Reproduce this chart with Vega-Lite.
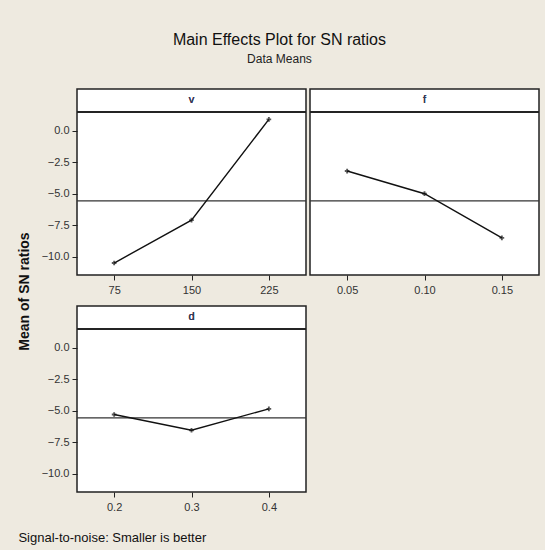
{
  "$schema": "https://vega.github.io/schema/vega-lite/v6.json",
  "background": "#EEEAE0",
  "padding": {"left": 18, "top": 32, "right": 4, "bottom": 5},
  "title": {
    "text": "Main Effects Plot for SN ratios",
    "subtitle": "Data Means",
    "anchor": "middle",
    "font": "Liberation Sans",
    "fontSize": 16,
    "fontWeight": "normal",
    "color": "#111",
    "subtitleFont": "Liberation Sans",
    "subtitleFontSize": 12,
    "subtitleColor": "#222",
    "subtitlePadding": 6,
    "offset": 23
  },
  "data": {
    "values": [
      {"factor": "v", "level": "75", "sn": -10.5},
      {"factor": "v", "level": "150", "sn": -7.1},
      {"factor": "v", "level": "225", "sn": 0.9},
      {"factor": "f", "level": "0.05", "sn": -3.2},
      {"factor": "f", "level": "0.10", "sn": -5.0},
      {"factor": "f", "level": "0.15", "sn": -8.5},
      {"factor": "d", "level": "0.2", "sn": -5.3},
      {"factor": "d", "level": "0.3", "sn": -6.55},
      {"factor": "d", "level": "0.4", "sn": -4.85}
    ]
  },
  "vconcat": [
    {
      "title": {
        "text": "Signal-to-noise: Smaller is better",
        "orient": "bottom",
        "anchor": "start",
        "frame": "bounds",
        "font": "Liberation Sans",
        "fontSize": 13,
        "fontWeight": "normal",
        "color": "#111",
        "offset": 19
      },
      "vconcat": [
        {
          "title": {
            "text": "Mean of SN ratios",
            "orient": "left",
            "anchor": "middle",
            "font": "Liberation Sans",
            "fontSize": 14,
            "fontWeight": "bold",
            "color": "#111",
            "offset": 8,
            "dx": 9
          },
          "spacing": 9,
          "vconcat": [
            {
              "spacing": 0,
              "hconcat": [
                {
                  "width": 229,
                  "height": 186,
                  "transform": [{"filter": "datum.factor == 'v'"}],
                  "encoding": {
                    "x": {"field": "level", "type": "ordinal", "sort": null, "scale": {"type": "point", "padding": 0.48}, "axis": {"title": null}},
                    "y": {"field": "sn", "type": "quantitative", "scale": {"domain": [-11.45, 3.31], "nice": false, "zero": false}, "axis": {"title": null, "values": [0, -2.5, -5, -7.5, -10], "format": ".1f"}}
                  },
                  "layer": [
                    {"mark": {"type": "rule", "color": "#333", "strokeWidth": 1.4}, "encoding": {"x": null, "y": {"aggregate": "mean", "field": "sn", "type": "quantitative"}}},
                    {"mark": {"type": "rule", "color": "#222", "strokeWidth": 1.5}, "encoding": {"x": null, "y": {"datum": 1.485}}},
                    {"mark": {"type": "line", "color": "#111", "strokeWidth": 1.4}},
                    {"mark": {"type": "point", "shape": "cross", "filled": true, "color": "#111", "size": 22}},
                    {"mark": {"type": "text", "font": "Liberation Sans", "fontSize": 11, "color": "#3a3a5a", "baseline": "middle"}, "encoding": {"x": null, "y": {"datum": 2.4}, "text": {"field": "factor", "type": "nominal"}, "tooltip": {"aggregate": "count", "type": "quantitative"}}}
                  ]
                },
                {
                  "width": 229,
                  "height": 186,
                  "transform": [{"filter": "datum.factor == 'f'"}],
                  "encoding": {
                    "x": {"field": "level", "type": "ordinal", "sort": null, "scale": {"type": "point", "padding": 0.48}, "axis": {"title": null}},
                    "y": {"field": "sn", "type": "quantitative", "scale": {"domain": [-11.45, 3.31], "nice": false, "zero": false}, "axis": null}
                  },
                  "layer": [
                    {"mark": {"type": "rule", "color": "#333", "strokeWidth": 1.4}, "encoding": {"x": null, "y": {"aggregate": "mean", "field": "sn", "type": "quantitative"}}},
                    {"mark": {"type": "rule", "color": "#222", "strokeWidth": 1.5}, "encoding": {"x": null, "y": {"datum": 1.485}}},
                    {"mark": {"type": "line", "color": "#111", "strokeWidth": 1.4}},
                    {"mark": {"type": "point", "shape": "cross", "filled": true, "color": "#111", "size": 22}},
                    {"mark": {"type": "text", "font": "Liberation Sans", "fontSize": 11, "color": "#3a3a5a", "baseline": "middle"}, "encoding": {"x": null, "y": {"datum": 2.4}, "text": {"field": "factor", "type": "nominal"}, "tooltip": {"aggregate": "count", "type": "quantitative"}}}
                  ]
                }
              ]
            },
            {
              "width": 229,
              "height": 186,
              "transform": [{"filter": "datum.factor == 'd'"}],
              "encoding": {
                "x": {"field": "level", "type": "ordinal", "sort": null, "scale": {"type": "point", "padding": 0.48}, "axis": {"title": null}},
                "y": {"field": "sn", "type": "quantitative", "scale": {"domain": [-11.45, 3.31], "nice": false, "zero": false}, "axis": {"title": null, "values": [0, -2.5, -5, -7.5, -10], "format": ".1f"}}
              },
              "layer": [
                {"mark": {"type": "rule", "color": "#333", "strokeWidth": 1.4}, "encoding": {"x": null, "y": {"aggregate": "mean", "field": "sn", "type": "quantitative"}}},
                {"mark": {"type": "rule", "color": "#222", "strokeWidth": 1.5}, "encoding": {"x": null, "y": {"datum": 1.485}}},
                {"mark": {"type": "line", "color": "#111", "strokeWidth": 1.4}},
                {"mark": {"type": "point", "shape": "cross", "filled": true, "color": "#111", "size": 22}},
                {"mark": {"type": "text", "font": "Liberation Sans", "fontSize": 11, "color": "#3a3a5a", "baseline": "middle"}, "encoding": {"x": null, "y": {"datum": 2.4}, "text": {"field": "factor", "type": "nominal"}, "tooltip": {"aggregate": "count", "type": "quantitative"}}}
              ]
            }
          ]
        }
      ]
    }
  ],
  "resolve": {"scale": {"x": "independent", "y": "independent"}},
  "config": {
    "view": {"stroke": "#222", "strokeWidth": 1.5, "fill": "white"},
    "concat": {"spacing": 0},
    "axis": {
      "labelFont": "Liberation Sans",
      "labelFontSize": 11,
      "labelColor": "#333",
      "tickColor": "#222",
      "tickSize": 5,
      "domain": false,
      "grid": false
    },
    "axisX": {"labelAngle": 0, "labelPadding": 4},
    "axisY": {"labelPadding": 3}
  }
}
